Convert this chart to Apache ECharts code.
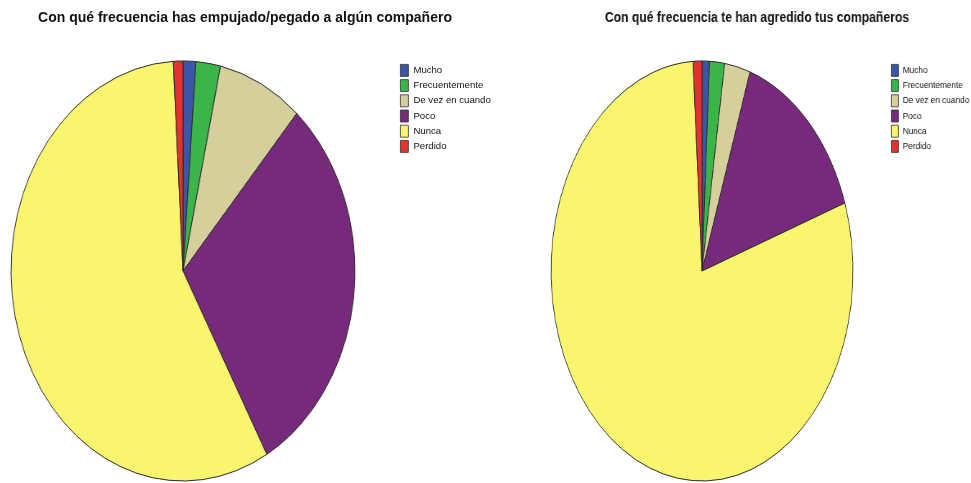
<!DOCTYPE html>
<html><head><meta charset="utf-8">
<script src="https://cdn.jsdelivr.net/npm/echarts@6/dist/echarts.min.js"></script>
<style>
html,body{margin:0;padding:0;background:#fff;overflow:hidden;width:971px;height:483px;}
.ov{position:absolute;top:0;height:483px;z-index:2;transform-origin:0 0;}
#ovL{left:0;width:520px;}
#ovR{left:520px;width:520px;transform:scaleX(0.869);}
.pie{position:absolute;width:440px;height:440px;top:51px;transform-origin:220px 220px;z-index:1;}
#pieL{left:-37px;transform:scaleX(0.819);}
#pieR{left:482px;transform:scaleX(0.719);}
</style></head><body>
<div id="pieL" class="pie"></div><div id="pieR" class="pie"></div>
<div id="ovL" class="ov"></div><div id="ovR" class="ov"></div>
<script>
// ---- data ----
const categories = ['Mucho', 'Frecuentemente', 'De vez en cuando', 'Poco', 'Nunca', 'Perdido'];
const sliceColors = ['#3b55a7', '#3bb449', '#d4cf9b', '#772a7b', '#f9f56f', '#e6322e'];
const valuesLeft = [1.2, 2.3, 8.0, 30.4, 57.2, 0.9];
const valuesRight = [0.8, 1.6, 2.75, 14.6, 79.3, 0.95];
const titleLeft = 'Con qué frecuencia has empujado/pegado a algún compañero';
const titleRight = 'Con qué frecuencia te han agredido tus compañeros';

const FONT = "'Liberation Sans', Arial, Helvetica, sans-serif";

function pieData(vals) {
  return categories.map((c, i) => ({ name: c, value: vals[i], itemStyle: { color: sliceColors[i] } }));
}

function pieOption(vals) {
  return {
    animation: false,
    series: [{
      type: 'pie',
      center: ['50%', '50%'],
      radius: 210,
      startAngle: 90,
      clockwise: true,
      label: { show: false },
      labelLine: { show: false },
      emphasis: { disabled: true },
      silent: true,
      itemStyle: { borderColor: '#2b2b2b', borderWidth: 1 },
      data: pieData(vals)
    }]
  };
}

echarts.init(document.getElementById('pieL')).setOption(pieOption(valuesLeft));
echarts.init(document.getElementById('pieR')).setOption(pieOption(valuesRight));

function overlayOption(title, titleX, legendX, vals, fs) {
  return {
    animation: false,
    title: {
      text: title, left: titleX, top: 11, padding: 0, textAlign: 'center',
      textStyle: { fontFamily: FONT, fontSize: 14, fontWeight: 'bold', color: '#111' }
    },
    legend: {
      orient: 'vertical',
      left: legendX,
      top: 64,
      padding: 0,
      icon: 'rect',
      itemWidth: 8,
      itemHeight: 12,
      itemGap: 2.4,
      selectedMode: false,
      itemStyle: { borderColor: '#333', borderWidth: 0.8 },
      textStyle: { fontFamily: FONT, fontSize: fs, color: '#111', lineHeight: 12 },
      data: categories
    },
    series: [{
      type: 'pie',
      center: [-300, -300],
      radius: 5,
      silent: true,
      label: { show: false },
      data: pieData(vals)
    }]
  };
}

echarts.init(document.getElementById('ovL')).setOption(overlayOption(titleLeft, 245, 400, valuesLeft, 9.6));
echarts.init(document.getElementById('ovR')).setOption(overlayOption(titleRight, 272.7, 427, valuesRight, 9.5));
</script>
</body></html>
